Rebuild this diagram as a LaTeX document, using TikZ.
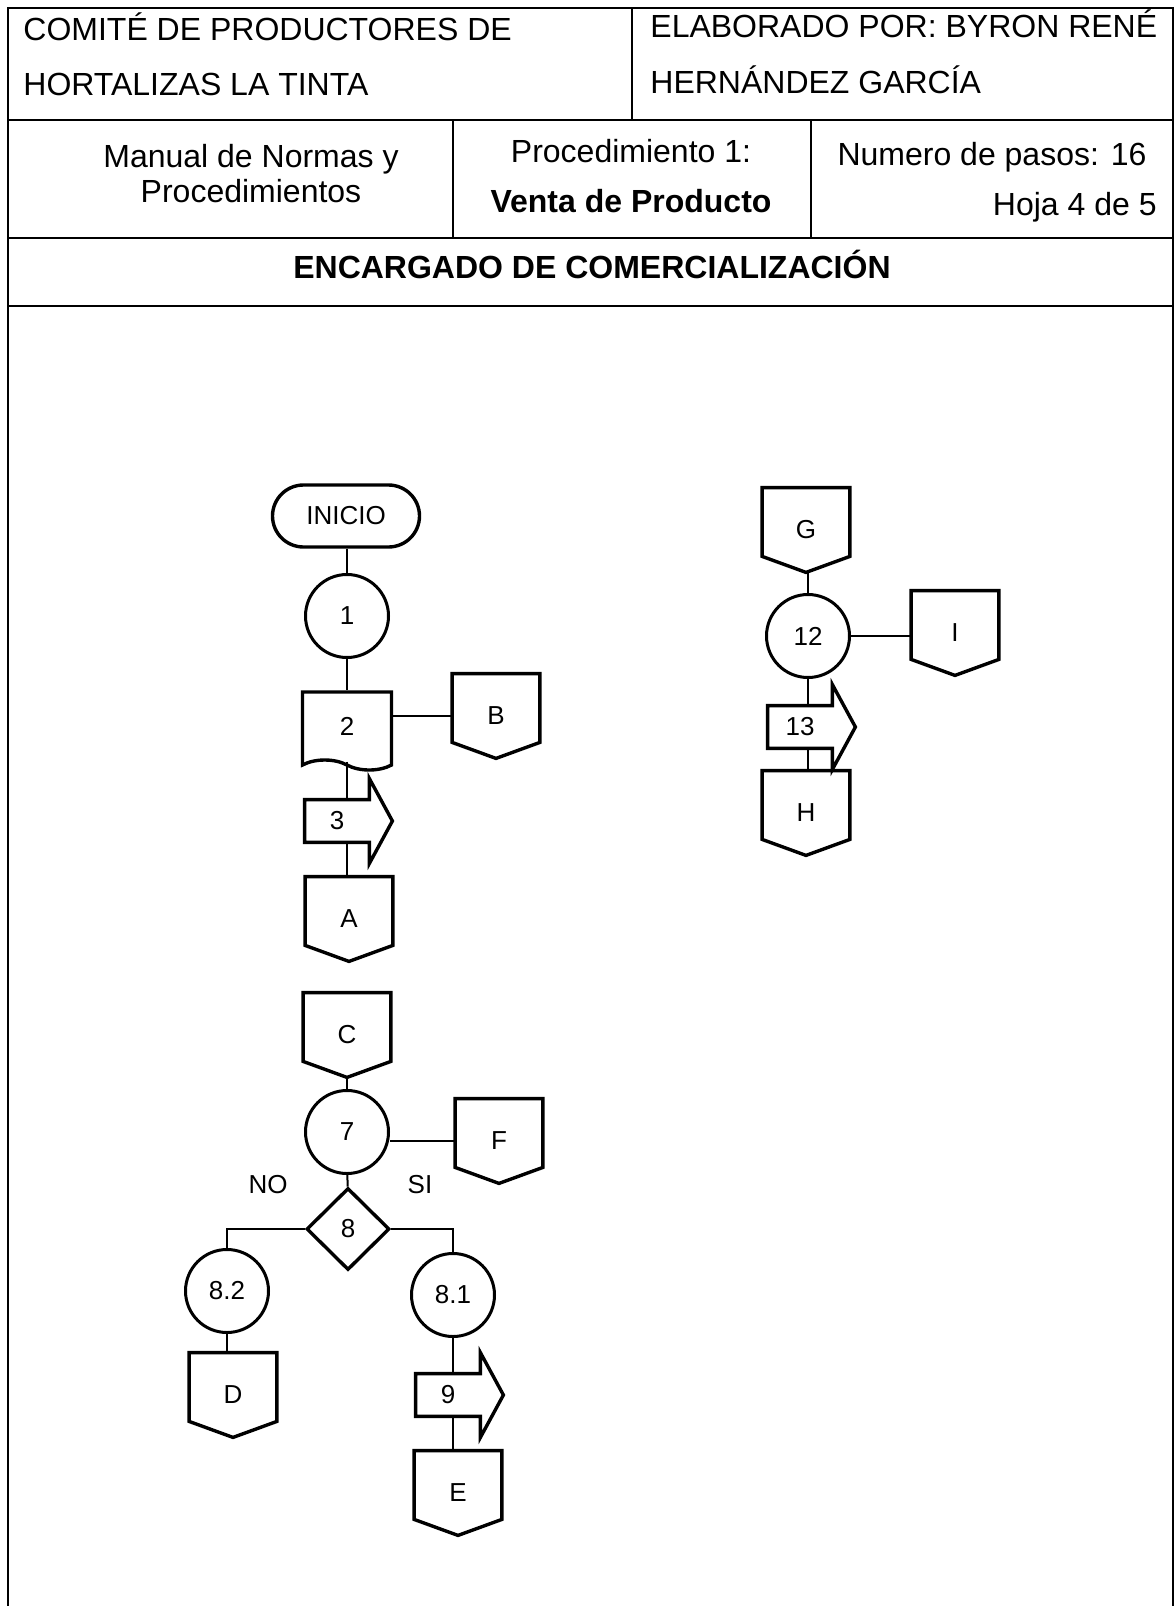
\documentclass[tikz,border=0pt]{standalone}
\usepackage{fontspec}
\setmainfont{Liberation Sans}
\usetikzlibrary{shapes.geometric,shapes.symbols}

\begin{document}
\begin{tikzpicture}[x=0.5pt,y=-0.5pt,
	linea/.style={line width=1pt},
	borde/.style={line width=1.7pt},
	titulo/.style={font=\fontsize{16}{19}\selectfont,inner sep=0pt},
	etiqueta/.style={font=\fontsize{13}{15}\selectfont},
	inicio/.style={rectangle,rounded corners=15.5pt,draw,borde,etiqueta,minimum width=73.5pt,minimum height=31pt},
	paso/.style={circle,draw,line width=1.5pt,etiqueta,minimum size=41.5pt,inner sep=0pt},
	documento/.style={tape,tape bend top=none,tape bend bottom=out and in,draw,borde,etiqueta,minimum width=44.5pt,minimum height=39pt,inner sep=0pt},
	decision/.style={diamond,draw,borde,etiqueta,minimum width=41.5pt,minimum height=41pt,inner sep=0pt},
	conector/.style={rectangle,etiqueta,minimum width=43.5pt,minimum height=42pt,inner sep=0pt,
		append after command={\pgfextra{\draw[borde] (\tikzlastnode.north west)--(\tikzlastnode.north east)--([yshift=8pt]\tikzlastnode.south east)--(\tikzlastnode.south)--([yshift=8pt]\tikzlastnode.south west)--cycle;}}},
	transporte/.style={rectangle,etiqueta,minimum width=32pt,minimum height=21pt,inner sep=0pt,
		append after command={\pgfextra{\draw[borde] (\tikzlastnode.north west)--(\tikzlastnode.north east)--([yshift=10.5pt]\tikzlastnode.north east)--([xshift=11.5pt]\tikzlastnode.east)--([yshift=-10.5pt]\tikzlastnode.south east)--(\tikzlastnode.south east)--(\tikzlastnode.south west)--cycle;}}}]
	\useasboundingbox (0,0) rectangle (1175,1606);
	% encabezado
	\draw[line width=1.2pt] (8,1606)--(8,8)--(1173,8)--(1173,1606);
	\draw[linea] (8,120)--(1173,120);
	\draw[linea] (8,238)--(1173,238);
	\draw[linea] (8,306)--(1173,306);
	\draw[linea] (632,8)--(632,120);
	\draw[linea] (453,120)--(453,238);
	\draw[linea] (811,120)--(811,238);
	\node[titulo,anchor=base west](comite1) at (23,40){COMITÉ DE PRODUCTORES DE};
	\node[titulo,anchor=base west](comite2) at (23,95){HORTALIZAS LA TINTA};
	\node[titulo,anchor=base west](elab1) at (650,37){ELABORADO POR: BYRON RENÉ};
	\node[titulo,anchor=base west](elab2) at (650,93){HERNÁNDEZ GARCÍA};
	\node[titulo,anchor=base](manual1) at (251,167){Manual de Normas y};
	\node[titulo,anchor=base](manual2) at (251,202){Procedimientos};
	\node[titulo,anchor=base](proc1) at (631,162){Procedimiento 1:};
	\node[titulo,anchor=base,font=\fontsize{16}{19}\selectfont\bfseries](proc2) at (631,212){Venta de Producto};
	\node[titulo,anchor=base](pasos) at (992,165){Numero de pasos: 16};
	\node[titulo,anchor=base east](hoja) at (1157,215){Hoja 4 de 5};
	\node[titulo,anchor=base,font=\fontsize{16}{19}\selectfont\bfseries](encargado) at (592,278){ENCARGADO DE COMERCIALIZACIÓN};
	% columna izquierda
	\node[inicio](ini) at (346,516){INICIO};
	\node[paso](n1) at (347,616){1};
	\node[documento](n2) at (347,726){2};
	\node[conector](nB) at (496,716){B};
	\node[transporte](n3) at (337,821){3};
	\node[conector](nA) at (349,919){A};
	\node[conector](nC) at (347,1035){C};
	\node[paso](n7) at (347,1132){7};
	\node[conector](nF) at (499,1141){F};
	\node[decision](n8) at (348,1229){8};
	\node[etiqueta](no) at (268,1185){NO};
	\node[etiqueta](si) at (420,1185){SI};
	\node[paso](n82) at (227,1291){8.2};
	\node[conector](nD) at (233,1395){D};
	\node[paso](n81) at (453,1295){8.1};
	\node[transporte](n9) at (448,1395){9};
	\node[conector](nE) at (458,1493){E};
	% columna derecha
	\node[conector](nG) at (806,530){G};
	\node[paso](n12) at (808,636){12};
	\node[conector](nI) at (955,633){I};
	\node[transporte](n13) at (800,727){13};
	\node[conector](nH) at (806,813){H};
	\draw[linea] (n1 |- ini.south)--(n1);
	\draw[linea] (n1)--(n2);
	\draw[linea] (n2.south)--(n2.south |- n3.north);
	\draw[linea] (n2.south |- n3.south)--(n2.south |- nA.north);
	\draw[linea] (nB.west -| n2.east)--(nB.west);
	\draw[linea] (nC)--(n7);
	\draw[linea] (n7)--(n8);
	\draw[linea] (nF.west -| n7.east)--(nF.west);
	\draw[linea] (n8.west) -| (n82.north);
	\draw[linea] (n8.east) -| (n81.north);
	\draw[linea] (n82)--(n82 |- nD.north);
	\draw[linea] (n81)--(n81 |- n9.north);
	\draw[linea] (n81 |- n9.south)--(n81 |- nE.north);
	\draw[linea] (n12 |- nG.south)--(n12);
	\draw[linea] (n12)--(n12 -| nI.west);
	\draw[linea] (n12)--(n12 |- n13.north);
	\draw[linea] (n12 |- n13.south)--(n12 |- nH.north);
\end{tikzpicture}
\end{document}
